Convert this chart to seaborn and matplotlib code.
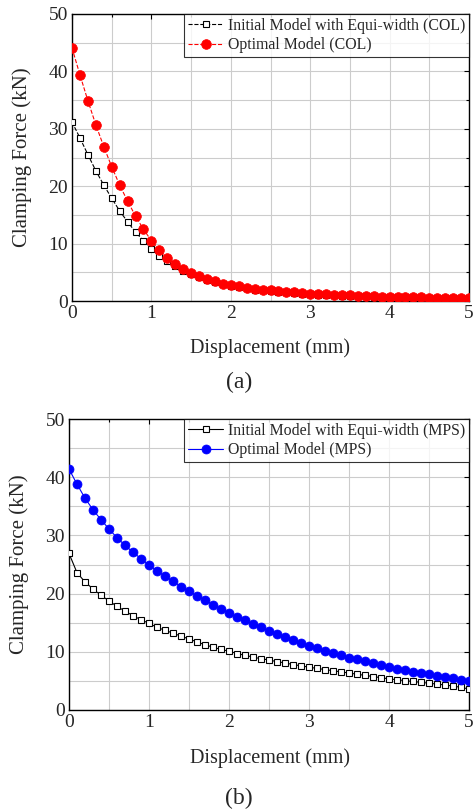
import numpy as np
import matplotlib
matplotlib.use("Agg")
import matplotlib.pyplot as plt
from matplotlib.ticker import MultipleLocator
import seaborn as sns

sns.set_theme(style="white")
plt.rcParams["font.family"] = ["Liberation Serif", "DejaVu Serif"]
plt.rcParams["mathtext.fontset"] = "stix"

# ── data ─────────────────────────────────────────────────────────────────────
disp = [round(0.1 * i, 1) for i in range(51)]

col_initial = [31.2, 28.4, 25.5, 22.7, 20.2, 17.9, 15.7, 13.8, 12.0, 10.5,
               9.1, 7.9, 6.9, 6.1, 5.3, 4.7, 4.1, 3.7, 3.3, 2.9,
               2.6, 2.4, 2.2, 2.0, 1.85, 1.7, 1.6, 1.5, 1.4, 1.3,
               1.2, 1.1, 1.05, 1.0, 0.95, 0.9, 0.85, 0.8, 0.75, 0.7,
               0.67, 0.63, 0.6, 0.57, 0.54, 0.51, 0.48, 0.46, 0.44, 0.42, 0.4]
col_optimal = [44.1, 39.4, 34.9, 30.7, 26.9, 23.4, 20.2, 17.4, 14.8, 12.5,
               10.5, 8.8, 7.5, 6.4, 5.6, 4.9, 4.3, 3.8, 3.4, 3.0,
               2.8, 2.55, 2.35, 2.15, 2.0, 1.85, 1.72, 1.6, 1.5, 1.4,
               1.3, 1.22, 1.15, 1.08, 1.02, 0.96, 0.91, 0.86, 0.82, 0.78,
               0.74, 0.7, 0.67, 0.64, 0.61, 0.58, 0.55, 0.53, 0.5, 0.48, 0.46]
mps_initial = [26.9, 23.6, 22.0, 20.8, 19.7, 18.75, 17.8, 17.0, 16.2, 15.5,
               14.9, 14.2, 13.7, 13.2, 12.7, 12.2, 11.7, 11.2, 10.8, 10.4,
               10.1, 9.7, 9.4, 9.1, 8.8, 8.6, 8.3, 8.1, 7.8, 7.6,
               7.35, 7.15, 6.95, 6.75, 6.55, 6.35, 6.15, 5.95, 5.75, 5.55,
               5.35, 5.2, 5.05, 4.9, 4.75, 4.6, 4.45, 4.3, 4.1, 3.9, 3.6]
mps_optimal = [41.4, 38.8, 36.4, 34.4, 32.7, 31.1, 29.6, 28.3, 27.1, 26.0,
               24.9, 23.9, 23.0, 22.1, 21.2, 20.4, 19.6, 18.9, 18.1, 17.4,
               16.7, 16.0, 15.4, 14.8, 14.2, 13.6, 13.0, 12.5, 12.0, 11.5,
               11.0, 10.6, 10.2, 9.8, 9.4, 9.0, 8.7, 8.35, 8.0, 7.7,
               7.4, 7.1, 6.85, 6.6, 6.35, 6.1, 5.9, 5.65, 5.45, 5.2, 5.0]

W, H = 473, 811
panels = [
    ("(a)", col_initial, col_optimal, "red", "--", 7.0,
     "Initial Model with Equi-width (COL)", "Optimal Model (COL)",
     [72 / W, 1 - 301 / H, 397 / W, 287 / H], 348, 382),
    ("(b)", mps_initial, mps_optimal, "blue", "-", 6.5,
     "Initial Model with Equi-width (MPS)", "Optimal Model (MPS)",
     [69 / W, 1 - 710 / H, 400 / W, 291 / H], 758, 798),
]

fig = plt.figure(figsize=(W / 100, H / 100), dpi=100)

for tag, y_init, y_opt, col, ls, ms, lab1, lab2, rect, xl_y, cap_y in panels:
    ax = fig.add_axes(rect)
    sns.lineplot(x=disp, y=y_init, ax=ax, color="black", lw=0.8, linestyle=ls,
                 marker="s", markersize=5, markerfacecolor="white",
                 markeredgecolor="black", markeredgewidth=0.8, label=lab1,
                 zorder=3)
    sns.lineplot(x=disp, y=y_opt, ax=ax, color=col, lw=0.8, linestyle=ls,
                 marker="o", markersize=ms, markerfacecolor=col,
                 markeredgecolor=col, markeredgewidth=0.5, label=lab2,
                 zorder=4)
    ax.set_xlim(0, 5); ax.set_ylim(0, 50)
    ax.xaxis.set_major_locator(MultipleLocator(1))
    ax.xaxis.set_minor_locator(MultipleLocator(0.5))
    ax.yaxis.set_major_locator(MultipleLocator(10))
    ax.yaxis.set_minor_locator(MultipleLocator(5))
    ax.grid(True, which="both", color="#cccccc", lw=0.8, zorder=0)
    ax.tick_params(which="both", direction="in", top=True, right=True,
                   color="black", labelsize=14, pad=3)
    ax.tick_params(which="major", length=3.5, width=0.8)
    ax.tick_params(which="minor", length=2, width=0.8)
    for s in ax.spines.values():
        s.set_color("black"); s.set_linewidth(1.0)
    ax.set_xlabel("")
    ax.set_ylabel("Clamping Force (kN)", fontsize=15, labelpad=12)
    leg = ax.legend(loc="upper right", fontsize=11.4, frameon=True, fancybox=False,
                    borderaxespad=0, handlelength=2.2, handletextpad=0.3,
                    borderpad=0.25, labelspacing=0.2)
    leg.get_frame().set_edgecolor("black"); leg.get_frame().set_linewidth(0.8)
    fig.text(270 / W, 1 - xl_y / H, "Displacement (mm)", ha="center",
             va="center", fontsize=14.5)
    fig.text(239 / W, 1 - cap_y / H, tag, ha="center", va="center",
             fontsize=17)

fig.savefig("out.png", dpi=100)
